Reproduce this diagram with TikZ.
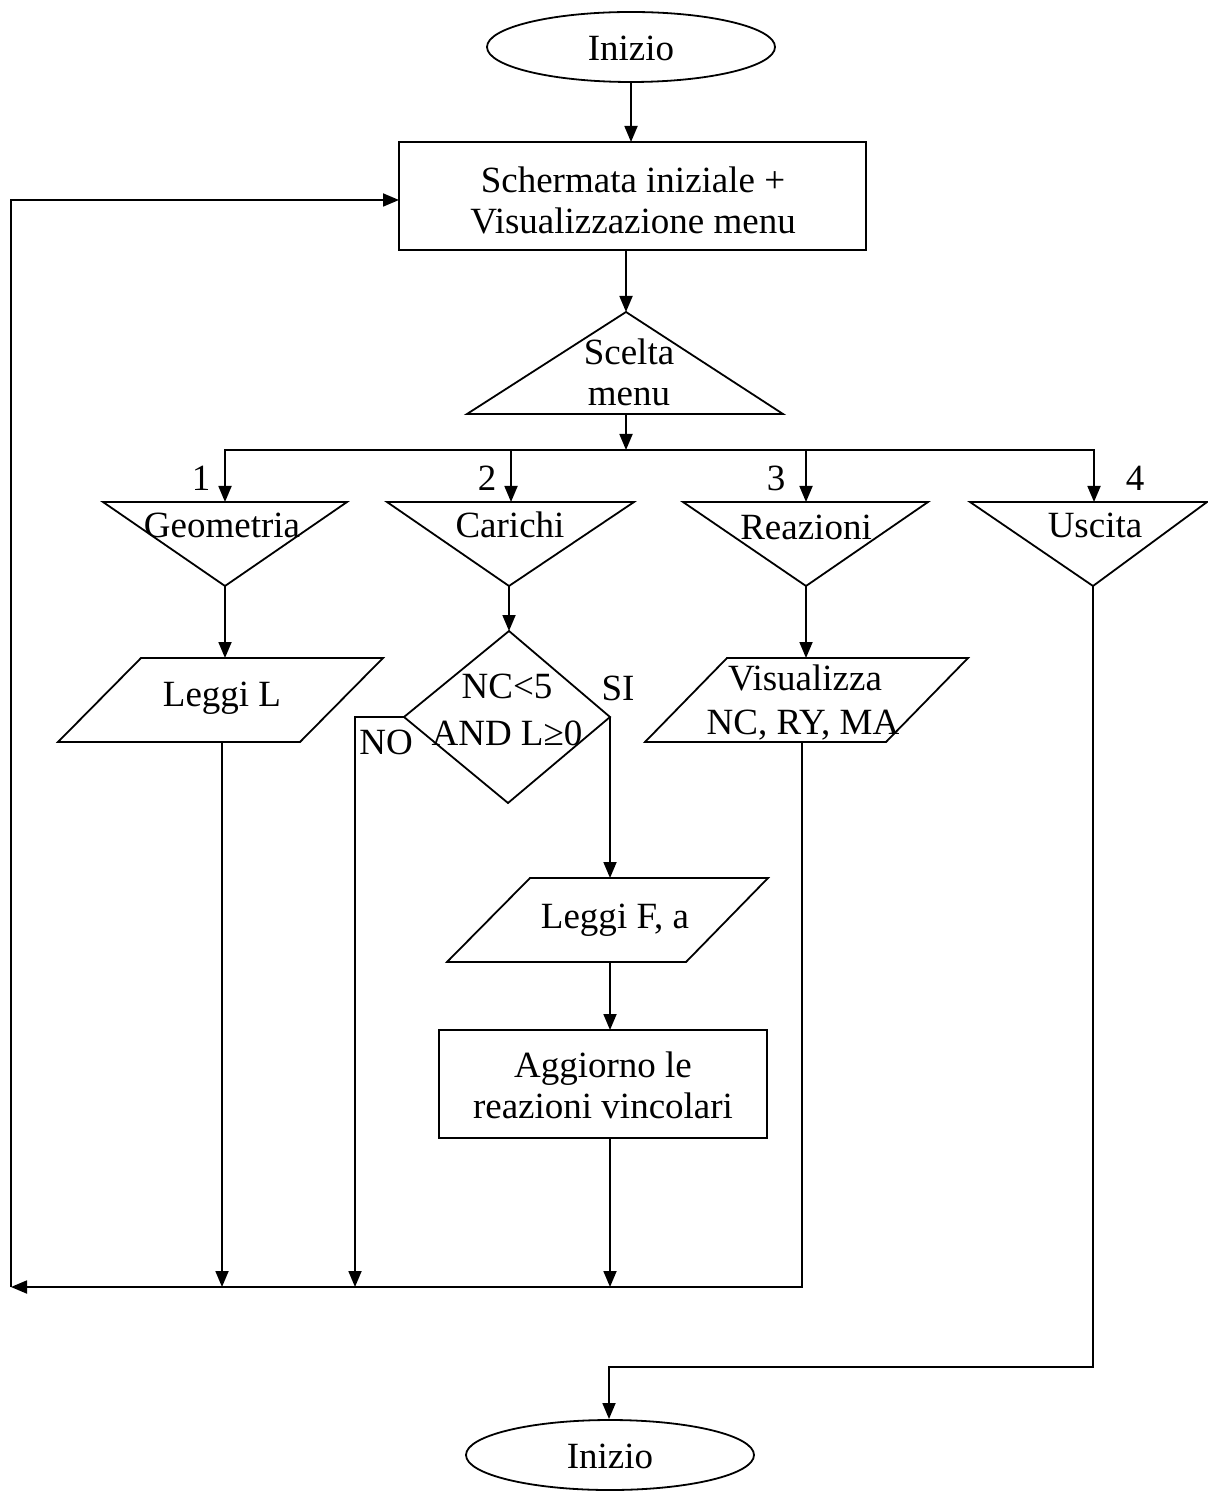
\documentclass[tikz,border=0pt]{standalone}
\usepackage{fontspec}
\setmainfont{Liberation Serif}
\usetikzlibrary{arrows.meta}
\begin{document}
\begin{tikzpicture}[x=0.5pt,y=-0.5pt,line width=0.9pt,line join=miter,
  arr/.style={-{Triangle[length=8pt,width=6.5pt]}},
  txt/.style={font=\fontsize{18.5}{20.5}\selectfont,inner sep=0pt,align=center}]
\useasboundingbox (0,0) rectangle (1207,1491);
% ---- start ellipse
\draw (631,47) ellipse [x radius=144, y radius=35];
\node[txt] (tstart) at (631,48) {Inizio};
\coordinate (e1b) at (631,82);
% ---- first box
\draw (399,142) rectangle (866,250);
\node[txt] (tbox1) at (633,200) {Schermata iniziale +\\Visualizzazione menu};
\coordinate (b1t) at (631,142);
\coordinate (b1b) at (626,250);
\coordinate (b1l) at (399,200);
\draw[arr] (e1b) -- (b1t);
% ---- scelta triangle
\coordinate (sA) at (626,312);
\coordinate (sB) at (626,414);
\draw (sA) -- (783,414) -- (467,414) -- cycle;
\node[txt] (tscelta) at (629,372) {Scelta\\menu};
\draw[arr] (b1b) -- (sA);
% ---- bus
\coordinate (bus) at (626,450);
\coordinate (g1t) at (225,502);
\coordinate (g2t) at (511,502);
\coordinate (g3t) at (806,502);
\coordinate (g4t) at (1094,502);
\draw[arr] (bus) -| (g1t);
\draw[arr] (bus) -| (g4t);
\draw[arr] (g2t |- bus) -- (g2t);
\draw[arr] (g3t |- bus) -- (g3t);
\draw[arr] (sB) -- (bus);
% ---- menu triangles
\coordinate (g1a) at (225,586);
\coordinate (g2a) at (509,586);
\coordinate (g3a) at (806,586);
\coordinate (g4a) at (1093,586);
\draw (103,502) -- (347,502) -- (g1a) -- cycle;
\draw (387,502) -- (634,502) -- (g2a) -- cycle;
\draw (683,502) -- (928,502) -- (g3a) -- cycle;
\draw (970,502) -- (1207,502) -- (g4a) -- cycle;
\node[txt] (tgeo) at (222,525) {Geometria};
\node[txt] (tcar) at (510,525) {Carichi};
\node[txt] (trea) at (806,527) {Reazioni};
\node[txt] (tusc) at (1095,525) {Uscita};
\node[txt] (l1) at (201,478) {1};
\node[txt] (l2) at (487,478) {2};
\node[txt] (l3) at (776,478) {3};
\node[txt] (l4) at (1135,478) {4};
% ---- Leggi L
\coordinate (pLt) at (225,658);
\coordinate (pLb) at (222,742);
\draw (141,658) -- (383,658) -- (300,742) -- (58,742) -- cycle;
\node[txt] (tleggiL) at (222,698) {Leggi L};
\draw[arr] (g1a) -- (pLt);
% ---- diamond
\coordinate (dT) at (509,631);
\coordinate (dR) at (610,717);
\coordinate (dB) at (508,803);
\coordinate (dL) at (404,717);
\draw (dT) -- (dR) -- (dB) -- (dL) -- cycle;
\node[txt] (tnc) at (507,686) {NC<5};
\node[txt] (tand) at (507,733) {AND L≥0};
\node[txt] (tsi) at (618,688) {SI};
\node[txt] (tno) at (386,742) {NO};
\draw[arr] (g2a) -- (dT);
% ---- Leggi F, a
\coordinate (pFt) at (610,878);
\coordinate (pFb) at (610,962);
\draw (530,878) -- (768,878) -- (686,962) -- (447,962) -- cycle;
\node[txt] (tleggiF) at (615,920) {Leggi F, a};
\draw[arr] (dR) -- (pFt);
% ---- Aggiorno box
\coordinate (b2t) at (610,1030);
\coordinate (b2b) at (610,1138);
\draw (439,1030) rectangle (767,1138);
\node[txt] (tagg) at (603,1085) {Aggiorno le\\reazioni vincolari};
\draw[arr] (pFb) -- (b2t);
% ---- Visualizza
\coordinate (pVt) at (806,658);
\coordinate (pVb) at (802,742);
\draw (727,658) -- (968,658) -- (886,742) -- (645,742) -- cycle;
\node[txt] (tvis1) at (805,678) {Visualizza};
\node[txt] (tvis2) at (803,725) {NC, RY, MA};
\draw[arr] (g3a) -- (pVt);
% ---- bottom bus
\coordinate (bbR) at (802,1287);
\coordinate (bbL) at (11,1287);
\coordinate (loopT) at (11,200);
\draw[arr] (pLb) -- (pLb |- bbL);
\draw[arr] (dL) -| (355,1287);
\draw[arr] (b2b) -- (b2b |- bbL);
\draw[arr] (pVb) -- (bbR) -- (bbL);
\draw[arr] (bbL) -- (loopT) -- (b1l);
% ---- exit
\coordinate (exC) at (1093,1367);
\coordinate (e2t) at (609,1419);
\draw[arr] (g4a) -- (exC) -| (e2t);
\draw (610,1455) ellipse [x radius=144, y radius=35];
\node[txt] (tend) at (610,1456) {Inizio};
\end{tikzpicture}
\end{document}
